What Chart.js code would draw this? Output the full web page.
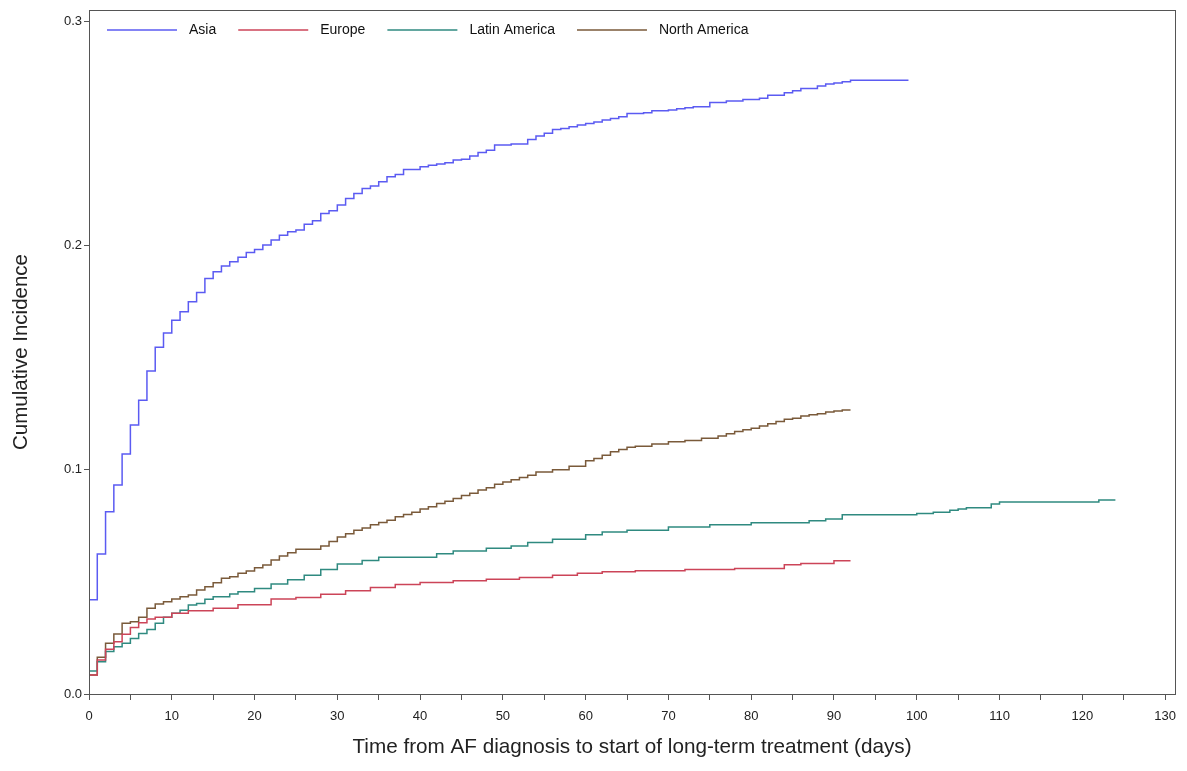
<!DOCTYPE html>
<html>
<head>
<meta charset="utf-8">
<title>Cumulative incidence by region</title>
<script src="https://cdn.jsdelivr.net/npm/chart.js@4"></script>
<style>
  html, body { margin: 0; padding: 0; background: #fff; }
  #wrap { width: 1187px; height: 771px; position: relative; }
</style>
</head>
<body>
<div id="wrap"><canvas id="myChart"></canvas></div>
<script>
// days from AF diagnosis / cumulative incidence
var seriesNames = ["Asia", "Europe", "Latin America", "North America"];
var seriesColors = ["#5b5bf2", "#cc4458", "#2f8a80", "#7a5a3a"];

var asiaDays = [0,
  0,1,2,3,4,5,6,7,8,9,
  10,11,12,13,14,15,16,17,18,19,
  20,21,22,23,24,25,26,27,28,29,
  30,31,32,33,34,35,36,37,38,40,
  41,42,43,44,45,46,47,48,49,51,
  53,54,55,56,57,58,59,60,61,62,
  63,64,65,67,68,70,71,72,73,75,
  77,79,81,82,84,85,86,88,89,90,
  91,92,99];
var asiaInc = [0,
  0.042,0.0624,0.0813,0.0932,0.107,0.120,0.131,0.144,0.1546,0.161,
  0.1667,0.1704,0.1749,0.179,0.1853,0.1883,0.1908,0.1927,0.1947,0.1969,
  0.1982,0.2002,0.2024,0.2046,0.2061,0.2069,0.2095,0.211,0.2143,0.2155,
  0.218,0.221,0.2232,0.2254,0.2265,0.2284,0.2306,0.2317,0.2339,0.2351,
  0.2358,0.2363,0.2369,0.2381,0.2385,0.2399,0.2415,0.2425,0.2448,0.2452,
  0.2473,0.2488,0.25,0.2517,0.2522,0.2529,0.2537,0.2544,0.2551,0.2559,
  0.2566,0.2574,0.2589,0.2592,0.2601,0.2604,0.261,0.2614,0.2619,0.2637,
  0.2644,0.2651,0.2656,0.267,0.2681,0.269,0.27,0.2711,0.272,0.2725,
  0.273,0.2737,0.2737];

var europeDays = [0,
  0,1,2,3,4,5,6,7,8,10,
  12,15,18,22,25,28,31,34,37,40,
  44,48,52,56,59,62,66,72,78,84,
  86,90,92];
var europeInc = [0,
  0.0085,0.0152,0.020,0.0233,0.0266,0.0297,0.0318,0.0334,0.0342,0.036,
  0.0371,0.0382,0.0398,0.0424,0.043,0.0445,0.046,0.0475,0.0488,0.0497,
  0.0505,0.0512,0.052,0.053,0.0538,0.0545,0.055,0.0555,0.056,0.0576,
  0.0582,0.0594,0.0594];

var latinDays = [0,
  0,1,2,3,4,5,6,7,8,9,
  10,11,12,13,14,15,17,18,20,22,
  24,26,28,30,33,35,42,44,48,51,
  53,56,60,62,65,70,75,80,87,89,
  91,100,102,104,105,106,109,110,122,124];
var latinInc = [0,
  0.0103,0.0144,0.0189,0.0211,0.0226,0.0248,0.027,0.0288,0.0315,0.0342,
  0.036,0.0374,0.0397,0.0404,0.0422,0.0434,0.0446,0.0456,0.047,0.049,
  0.051,0.053,0.0555,0.058,0.0595,0.061,0.0625,0.0638,0.065,0.066,
  0.0675,0.069,0.071,0.0722,0.073,0.0745,0.0755,0.0764,0.0773,0.078,
  0.0799,0.0805,0.081,0.0819,0.0825,0.083,0.0847,0.0856,0.0865,0.0865];

var northDays = [0,
  0,1,2,3,4,5,6,7,8,9,
  10,11,12,13,14,15,16,17,18,19,
  20,21,22,23,24,25,28,29,30,31,
  32,33,34,35,36,37,38,39,40,41,
  42,43,44,45,46,47,48,49,50,51,
  52,53,54,56,58,60,61,62,63,64,
  65,66,68,70,72,74,76,77,78,79,
  80,81,82,83,84,85,86,87,88,89,
  90,91,92];
var northInc = [0,
  0.0085,0.0164,0.0226,0.0267,0.0315,0.0322,0.0342,0.0382,0.0401,0.0411,
  0.0424,0.0434,0.0441,0.0464,0.0478,0.0496,0.0516,0.0523,0.0538,0.0548,
  0.0563,0.0575,0.0597,0.0615,0.063,0.0645,0.066,0.068,0.070,0.0715,
  0.073,0.074,0.0755,0.0765,0.0775,0.079,0.080,0.081,0.0825,0.0835,
  0.085,0.086,0.0872,0.0885,0.0895,0.091,0.092,0.0935,0.0945,0.0955,
  0.0965,0.0975,0.099,0.100,0.1015,0.104,0.105,0.1065,0.108,0.109,
  0.110,0.1105,0.1115,0.1125,0.113,0.114,0.115,0.116,0.117,0.1178,
  0.1185,0.1195,0.1205,0.1215,0.1225,0.123,0.124,0.1245,0.125,0.1258,
  0.1262,0.1266,0.1266];

var xTickValues = [0,5,10,15,20,25,30,35,40,45,50,55,60,65,70,75,80,85,90,95,100,105,110,115,120,125,130];
var yTickValues = [0, 0.1, 0.2, 0.3];

function toPoints(days, inc) {
  return days.map(function (d, i) { return {x: d, y: inc[i]}; });
}

var allDays = [asiaDays, europeDays, latinDays, northDays];
var allInc = [asiaInc, europeInc, latinInc, northInc];

var datasets = seriesNames.map(function (name, i) {
  return {
    label: name,
    data: toPoints(allDays[i], allInc[i]),
    borderColor: seriesColors[i],
    backgroundColor: seriesColors[i],
    borderWidth: 1.5,
    stepped: "before",
    pointRadius: 0,
    fill: false
  };
});

var fontFamily = "'Liberation Sans', Arial, sans-serif";

// box round the plot + legend sitting inside the plot area
var frameAndLegend = {
  id: "frameAndLegend",
  afterDraw: function (chart) {
    var ctx = chart.ctx;
    var a = chart.chartArea;
    ctx.save();
    ctx.strokeStyle = "#555";
    ctx.lineWidth = 1;
    ctx.strokeRect(a.left + 0.5, a.top + 0.5, a.right - a.left, a.bottom - a.top);

    ctx.font = "14px " + fontFamily;
    ctx.textBaseline = "middle";
    ctx.fillStyle = "#111";
    var x = a.left + 18;
    var y = a.top + 20;
    chart.data.datasets.forEach(function (ds) {
      ctx.strokeStyle = ds.borderColor;
      ctx.lineWidth = 1.5;
      ctx.beginPath();
      ctx.moveTo(x, y);
      ctx.lineTo(x + 70, y);
      ctx.stroke();
      x += 82;
      ctx.fillText(ds.label, x, y);
      x += ctx.measureText(ds.label).width + 22;
    });
    ctx.restore();
  }
};

new Chart("myChart", {
  type: "line",
  data: { datasets: datasets },
  options: {
    responsive: true,
    maintainAspectRatio: false,
    animation: false,
    layout: { padding: { top: 10, right: 12, left: 0, bottom: 0 } },
    plugins: {
      legend: { display: false },
      tooltip: { enabled: false }
    },
    scales: {
      x: {
        type: "linear",
        min: 0,
        max: 131.2,
        afterBuildTicks: function (scale) {
          scale.ticks = xTickValues.map(function (v) { return {value: v}; });
        },
        afterFit: function (scale) {
          scale.height = 77;
          scale.paddingRight = 0;
        },
        ticks: {
          autoSkip: false,
          maxRotation: 0,
          padding: 9,
          color: "#222",
          font: { family: fontFamily, size: 13 },
          callback: function (v) { return v % 10 === 0 ? String(v) : ""; }
        },
        grid: { drawOnChartArea: false, tickLength: 6, color: "#555" },
        border: { color: "#555" },
        title: {
          display: true,
          text: "Time from AF diagnosis to start of long-term treatment (days)",
          color: "#222",
          font: { family: fontFamily, size: 20.7 },
          padding: { top: 0, bottom: 11 }
        }
      },
      y: {
        type: "linear",
        min: 0,
        max: 0.305,
        afterBuildTicks: function (scale) {
          scale.ticks = yTickValues.map(function (v) { return {value: v}; });
        },
        afterFit: function (scale) {
          scale.width = 89;
          scale.paddingTop = 0;
        },
        ticks: {
          padding: 2,
          color: "#222",
          font: { family: fontFamily, size: 13 },
          callback: function (v) { return v.toFixed(1); }
        },
        grid: { drawOnChartArea: false, tickLength: 5, color: "#555" },
        border: { color: "#555" },
        title: {
          display: true,
          text: "Cumulative Incidence",
          color: "#222",
          font: { family: fontFamily, size: 20.5 },
          padding: { top: 9, bottom: 0 }
        }
      }
    }
  },
  plugins: [frameAndLegend]
});
</script>
</body>
</html>
